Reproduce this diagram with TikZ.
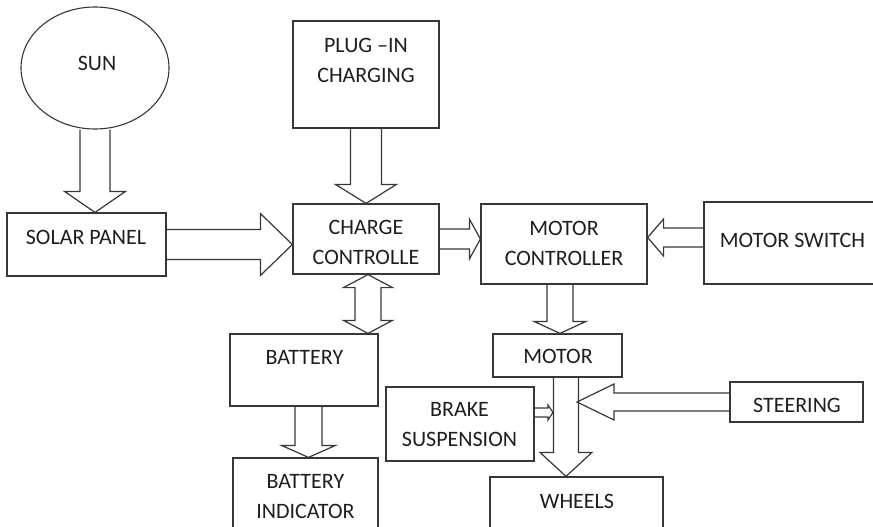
\documentclass[tikz,border=0pt]{standalone}
\usepackage{fontspec}
\setmainfont{Carlito}
\usetikzlibrary{shapes.geometric,calc}
\definecolor{LineGray}{RGB}{55,55,55}
\definecolor{TextGray}{RGB}{30,30,30}
\tikzset{
  nd_box/.style={
    rectangle, draw=LineGray, line width=1.2pt, inner sep=0pt},
  nd_sun/.style={
    ellipse, draw=LineGray, line width=1.1pt, inner sep=0pt},
  nd_txt/.style={
    font=\fontsize{22}{30}\selectfont, text=TextGray,
    align=center, inner sep=0pt},
  arr_fat/.style={draw=LineGray, line width=1.2pt, line join=miter},
}
% hollow block arrow: from, to, shaft half width, head half width, head length
\newcommand\fatarrow[5]{%
  \path ($(#2)!#5!(#1)$) coordinate (neck);
  \draw[arr_fat] ($(#1)!#3!90:(#2)$) -- ($(neck)!#3!90:(#2)$)
    -- ($(neck)!#4!90:(#2)$) -- (#2) -- ($(neck)!#4!-90:(#2)$)
    -- ($(neck)!#3!-90:(#2)$) -- ($(#1)!#3!-90:(#2)$);
}
% same, with a head at both ends
\newcommand\fatboth[5]{%
  \path ($(#1)!#5!(#2)$) coordinate (neckA) ($(#2)!#5!(#1)$) coordinate (neckB);
  \draw[arr_fat] (#1) -- ($(neckA)!#4!90:(#2)$) -- ($(neckA)!#3!90:(#2)$)
    -- ($(neckB)!#3!90:(#2)$) -- ($(neckB)!#4!90:(#2)$) -- (#2)
    -- ($(neckB)!#4!-90:(#2)$) -- ($(neckB)!#3!-90:(#2)$)
    -- ($(neckA)!#3!-90:(#2)$) -- ($(neckA)!#4!-90:(#2)$) -- cycle;
}

\begin{document}
\begin{tikzpicture}[x=1pt,y=-1pt]
\useasboundingbox (0,0) rectangle (873,527);
\clip (0,0) rectangle (873,527);

% blocks
\node[nd_sun, minimum width=148pt, minimum height=122pt] (sun) at (95,68) {};
\node[nd_box, minimum width=159pt, minimum height=63pt] (solar) at (86.5,244.5) {};
\node[nd_box, minimum width=146pt, minimum height=107pt] (plug) at (366,74.5) {};
\node[nd_box, minimum width=146pt, minimum height=70pt] (charge) at (366,239) {};
\node[nd_box, minimum width=166pt, minimum height=80pt] (mctrl) at (564,244) {};
\node[nd_box, minimum width=200pt, minimum height=82pt] (mswitch) at (804,243) {};
\node[nd_box, minimum width=129pt, minimum height=43pt] (motor) at (557.5,355.5) {};
\node[nd_box, minimum width=148pt, minimum height=72pt] (battery) at (304,370) {};
\node[nd_box, minimum width=145pt, minimum height=100pt] (batind) at (305.5,508) {};
\node[nd_box, minimum width=148pt, minimum height=74pt] (brake) at (460,424) {};
\node[nd_box, minimum width=133pt, minimum height=40pt] (steer) at (796.5,402) {};
\node[nd_box, minimum width=173pt, minimum height=100pt] (wheels) at (576.5,527) {};

% texts
\node[nd_txt] (sun_t) at (97,63) {SUN};
\node[nd_txt] (solar_t) at (86,237) {SOLAR PANEL};
\node[nd_txt] (plug_t) at (366,60) {PLUG –IN\\CHARGING};
\node[nd_txt] (charge_t) at (366,242) {CHARGE\\CONTROLLE};
\node[nd_txt] (mctrl_t) at (564,243) {MOTOR\\CONTROLLER};
\node[nd_txt] (mswitch_t) at (792.5,240) {MOTOR SWITCH};
\node[nd_txt] (motor_t) at (558,356) {MOTOR};
\node[nd_txt] (battery_t) at (304.5,357) {BATTERY};
\node[nd_txt] (batind_t) at (305.5,497) {BATTERY\\INDICATOR};
\node[nd_txt] (brake_t) at (459.5,425) {BRAKE\\SUSPENSION};
\node[nd_txt] (steer_t) at (797,405) {STEERING};
\node[nd_txt] (wheels_t) at (577,501) {WHEELS};

% arrow ends
\coordinate (swout) at ([yshift=5.5pt]mswitch.west);
\coordinate (mcout) at ([xshift=-4pt]mctrl.south);
\coordinate (chgout) at ([xshift=2pt]charge.south);
\coordinate (batout) at ([xshift=4.5pt]battery.south);
\coordinate (drive) at ([xshift=8.5pt]motor.south);
\path (drive |- steer.west) ++(11,0) coordinate (strtip);
\coordinate (brkout) at ([yshift=11.5pt]brake.east);
\path (brkout -| drive) ++(-13,0) coordinate (brktip);

% arrows
\fatarrow{sun.south}{sun.south |- solar.north}{15pt}{30.5pt}{21pt}
\fatarrow{solar.east}{solar.east -| charge.west}{15pt}{31pt}{32pt}
\fatarrow{plug.south}{charge.north}{15.5pt}{30.5pt}{19pt}
\fatarrow{charge.east}{charge.east -| mctrl.west}{10pt}{20pt}{11pt}
\fatarrow{swout}{swout -| mctrl.east}{9.5pt}{18.5pt}{16pt}
\fatarrow{mcout}{mcout |- motor.north}{13pt}{26pt}{12pt}
\fatboth{chgout}{chgout |- battery.north}{13pt}{24.5pt}{13pt}
\fatarrow{batout}{batout |- batind.north}{13.5pt}{27pt}{12pt}
\fatarrow{drive}{drive |- wheels.north}{12.5pt}{26pt}{24pt}
\fatarrow{steer.west}{strtip}{9pt}{18pt}{37pt}
\fatarrow{brkout}{brktip}{4.5pt}{7.5pt}{5pt}
\end{tikzpicture}
\end{document}
